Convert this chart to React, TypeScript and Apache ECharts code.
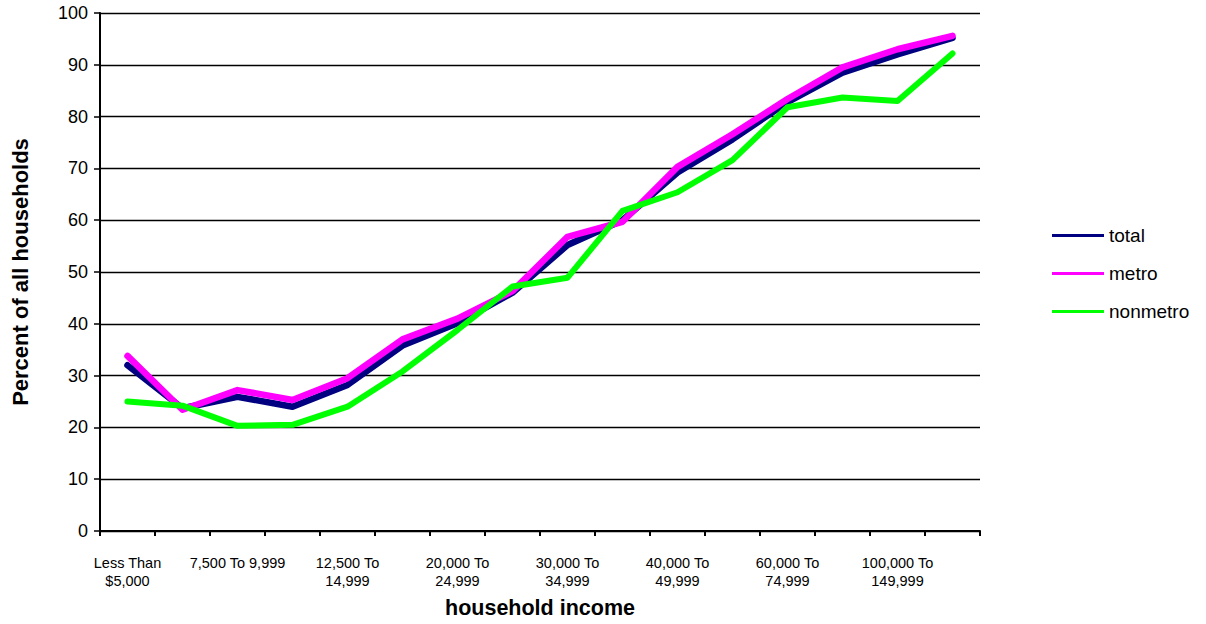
import React, { useEffect, useRef } from "react";
import * as echarts from "echarts";

const categories = [
  "Less Than\n$5,000",
  "5,000 To 7,499",
  "7,500 To 9,999",
  "10,000 To 12,499",
  "12,500 To\n14,999",
  "15,000 To 19,999",
  "20,000 To\n24,999",
  "25,000 To 29,999",
  "30,000 To\n34,999",
  "35,000 To 39,999",
  "40,000 To\n49,999",
  "50,000 To 59,999",
  "60,000 To\n74,999",
  "75,000 To 99,999",
  "100,000 To\n149,999",
  "150,000 or more",
];

const totalValues = [32, 23.7, 25.9, 24, 28.2, 35.8, 40.1, 46, 55.2, 60, 69.2, 75.6, 82.8, 88.5, 92, 95.2];
const metroValues = [33.8, 23.4, 27.2, 25.3, 29.5, 37, 41, 46.3, 56.8, 59.7, 70.3, 76.6, 83.4, 89.5, 93, 95.6];
const nonmetroValues = [25, 24.2, 20.3, 20.5, 24, 30.8, 38.8, 47.2, 48.9, 61.8, 65.4, 71.6, 81.8, 83.7, 83, 92.2];

const FONT = "'Liberation Sans', Arial, sans-serif";

export default function App() {
  const ref = useRef<HTMLDivElement>(null);
  useEffect(() => {
    if (!ref.current) return;
    const chart = echarts.init(ref.current, undefined, { renderer: "svg" });
    chart.setOption({
      animation: false,
      backgroundColor: "#ffffff",
      textStyle: { fontFamily: FONT },
      grid: { left: 100, right: 226, top: 13, bottom: 93, containLabel: false },
      legend: {
        orient: "vertical",
        left: 1047,
        top: 221,
        icon: "rect",
        itemWidth: 52,
        itemHeight: 3,
        itemGap: 19,
        textStyle: { fontSize: 19, color: "#000", fontFamily: FONT },
        data: ["total", "metro", "nonmetro"],
      },
      xAxis: {
        type: "category",
        data: categories,
        boundaryGap: true,
        name: "household income",
        nameLocation: "middle",
        nameGap: 66,
        nameTextStyle: { fontSize: 21.5, fontWeight: "bold", color: "#000", fontFamily: FONT },
        axisLine: { lineStyle: { color: "#000", width: 2 } },
        axisTick: { show: true, interval: 0, length: 5, lineStyle: { color: "#000", width: 2 } },
        axisLabel: {
          interval: 1,
          fontSize: 14.5,
          lineHeight: 18,
          margin: 23,
          color: "#000",
          fontFamily: FONT,
        },
        splitLine: { show: false },
      },
      yAxis: {
        type: "value",
        min: 0,
        max: 100,
        interval: 10,
        name: "Percent of all households",
        nameLocation: "middle",
        nameGap: 69,
        nameTextStyle: { fontSize: 22, fontWeight: "bold", color: "#000", fontFamily: FONT },
        axisLine: { show: true, lineStyle: { color: "#000", width: 2 } },
        axisTick: { show: true, length: 6, lineStyle: { color: "#000", width: 1.5 } },
        axisLabel: { fontSize: 18, margin: 12, color: "#000", fontFamily: FONT },
        splitLine: { show: true, lineStyle: { color: "#000", width: 1.3 } },
      },
      series: [
        {
          name: "total",
          type: "line",
          data: totalValues,
          symbol: "none",
          color: "#000080",
          lineStyle: { color: "#000080", width: 6.5, cap: "round", join: "round" },
        },
        {
          name: "metro",
          type: "line",
          data: metroValues,
          symbol: "none",
          color: "#ff00ff",
          lineStyle: { color: "#ff00ff", width: 6.5, cap: "round", join: "round" },
        },
        {
          name: "nonmetro",
          type: "line",
          data: nonmetroValues,
          symbol: "none",
          color: "#00ff00",
          lineStyle: { color: "#00ff00", width: 6, cap: "round", join: "round" },
        },
      ],
    });
    return () => chart.dispose();
  }, []);
  return (
    <div
      ref={ref}
      style={{ position: "fixed", left: 0, top: 0, width: 1206, height: 624 }}
    />
  );
}
